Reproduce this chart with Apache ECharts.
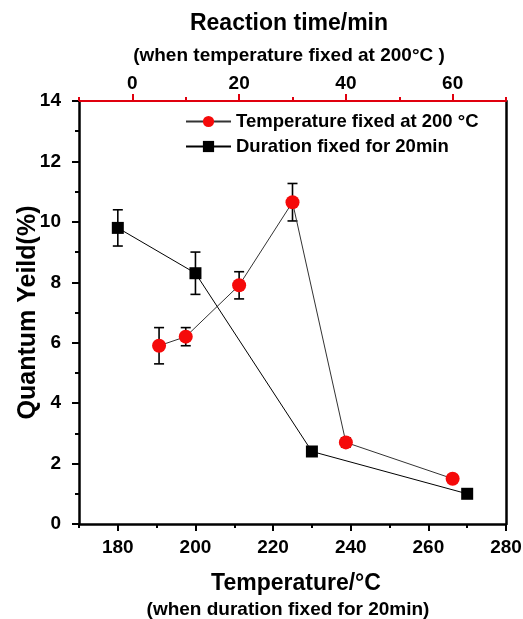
<!DOCTYPE html>
<html>
<head>
<meta charset="utf-8">
<script src="https://cdn.jsdelivr.net/npm/echarts@6/dist/echarts.min.js"></script>
<style>html,body{margin:0;padding:0;background:#fff}#c{width:523px;height:619px}</style>
</head>
<body>
<div id="c"></div>
<script>
// Duration fixed for 20 min (bottom axis: temperature)
const temps = [180, 200, 230, 270];
const durYield = [9.8, 8.3, 2.4, 1.0];
const durErr = [0.6, 0.7, 0.1, 0.1];
// Temperature fixed at 200 °C (top axis: reaction time)
const times = [5, 10, 20, 30, 40, 60];
const tempYield = [5.9, 6.2, 7.9, 10.65, 2.7, 1.5];
const tempErr = [0.6, 0.3, 0.45, 0.62, 0.15, 0.12];
// tick labels
const tempTicks = [180, 200, 220, 240, 260, 280];
const tempMinorTicks = [170, 190, 210, 230, 250, 270];
const timeTicks = [0, 20, 40, 60];
const timeMinorTicks = [-10, 10, 30, 50, 70];

const FONT = '"Liberation Sans", Arial, sans-serif';
const chart = echarts.init(document.getElementById('c'), null, {renderer: 'canvas'});

function errSeries(name, xIdx, xs, ys, es) {
  return {
    type: 'custom', name: name, xAxisIndex: xIdx, yAxisIndex: 0, z: 3,
    data: xs.map((x, i) => [x, ys[i] - es[i], ys[i] + es[i]]),
    renderItem: function (params, api) {
      const lo = api.coord([api.value(0), api.value(1)]);
      const hi = api.coord([api.value(0), api.value(2)]);
      const w = 5;
      const st = {stroke: '#000', lineWidth: 1.6};
      return {type: 'group', children: [
        {type: 'line', shape: {x1: lo[0], y1: lo[1], x2: hi[0], y2: hi[1]}, style: st},
        {type: 'line', shape: {x1: lo[0]-w, y1: lo[1], x2: lo[0]+w, y2: lo[1]}, style: st},
        {type: 'line', shape: {x1: hi[0]-w, y1: hi[1], x2: hi[0]+w, y2: hi[1]}, style: st}
      ]};
    }
  };
}

const labelStyle = {color: '#000', fontFamily: FONT, fontWeight: 'bold', fontSize: 19};
const tStyle = (s) => ({fontFamily: FONT, fontWeight: 'bold', fontSize: s, color: '#000'});

chart.setOption({
  animation: false,
  backgroundColor: '#fff',
  textStyle: {fontFamily: FONT},
  title: [
    {text: 'Reaction time/min', left: 289, top: 12, textAlign: 'center', padding: 0, textStyle: tStyle(23)},
    {text: '(when temperature fixed at 200°C )', left: 289, top: 46, textAlign: 'center', padding: 0, textStyle: tStyle(19)},
    {text: 'Temperature/°C', left: 296, top: 572, textAlign: 'center', padding: 0, textStyle: tStyle(23)},
    {text: '(when duration fixed for 20min)', left: 288, top: 600, textAlign: 'center', padding: 0, textStyle: tStyle(19)}
  ],
  legend: {
    left: 185, top: 112, orient: 'vertical', itemWidth: 45, itemHeight: 14, itemGap: 6, padding: 0,
    data: ['Temperature fixed at 200 °C', 'Duration fixed for 20min'],
    textStyle: {fontFamily: FONT, fontWeight: 'bold', fontSize: 18.5, color: '#000'}
  },
  grid: {left: 79, right: 17, top: 101, bottom: 95, outerBoundsMode: 'none', containLabel: false},
  xAxis: [
    {type: 'value', position: 'bottom', min: 170, max: 280,
     axisLine: {onZero: false, lineStyle: {color: '#000', width: 2.5}},
     axisTick: {customValues: tempTicks, length: 7, lineStyle: {color: '#000', width: 2}},
     axisLabel: Object.assign({customValues: tempTicks, margin: 14}, labelStyle),
     splitLine: {show: false}},
    {type: 'value', position: 'top', min: -10, max: 70,
     axisLine: {onZero: false, lineStyle: {color: '#e0000e', width: 2}},
     axisTick: {customValues: timeTicks, length: 7, lineStyle: {color: '#e0000e', width: 2}},
     axisLabel: Object.assign({customValues: timeTicks, margin: 8}, labelStyle),
     splitLine: {show: false}},
    {type: 'value', position: 'bottom', min: 170, max: 280,
     axisLine: {show: false, onZero: false},
     axisTick: {customValues: tempMinorTicks, length: 4, lineStyle: {color: '#000', width: 2}},
     axisLabel: {show: false}, splitLine: {show: false}},
    {type: 'value', position: 'top', min: -10, max: 70,
     axisLine: {show: false, onZero: false},
     axisTick: {customValues: timeMinorTicks, length: 4, lineStyle: {color: '#e0000e', width: 2}},
     axisLabel: {show: false}, splitLine: {show: false}}
  ],
  yAxis: [
    {type: 'value', min: 0, max: 14, interval: 2,
     name: 'Quantum Yeild(%)', nameLocation: 'middle', nameGap: 38, nameRotate: 90,
     nameMoveOverlap: false,
     nameTextStyle: tStyle(25),
     axisLine: {onZero: false, lineStyle: {color: '#000', width: 2.5}},
     axisTick: {length: 7, lineStyle: {color: '#000', width: 2}},
     minorTick: {show: true, splitNumber: 2, length: 4, lineStyle: {color: '#000', width: 2}},
     axisLabel: Object.assign({margin: 18}, labelStyle),
     splitLine: {show: false}},
    {type: 'value', min: 0, max: 14, position: 'right',
     axisLine: {show: true, onZero: false, lineStyle: {color: '#000', width: 2.5}},
     axisTick: {show: false}, axisLabel: {show: false}, splitLine: {show: false}}
  ],
  series: [
    {name: 'Temperature fixed at 200 °C', type: 'line', xAxisIndex: 1, yAxisIndex: 0, z: 4,
     data: times.map((t, i) => [t, tempYield[i]]),
     symbol: 'circle', symbolSize: 14,
     itemStyle: {color: '#f50a0a'},
     lineStyle: {color: '#333', width: 1}},
    {name: 'Duration fixed for 20min', type: 'line', xAxisIndex: 0, yAxisIndex: 0, z: 4,
     data: temps.map((t, i) => [t, durYield[i]]),
     symbol: 'rect', symbolSize: 12,
     itemStyle: {color: '#000'},
     lineStyle: {color: '#000', width: 1}},
    errSeries('errTemp', 1, times, tempYield, tempErr),
    errSeries('errDur', 0, temps, durYield, durErr)
  ]
});
</script>
</body>
</html>
